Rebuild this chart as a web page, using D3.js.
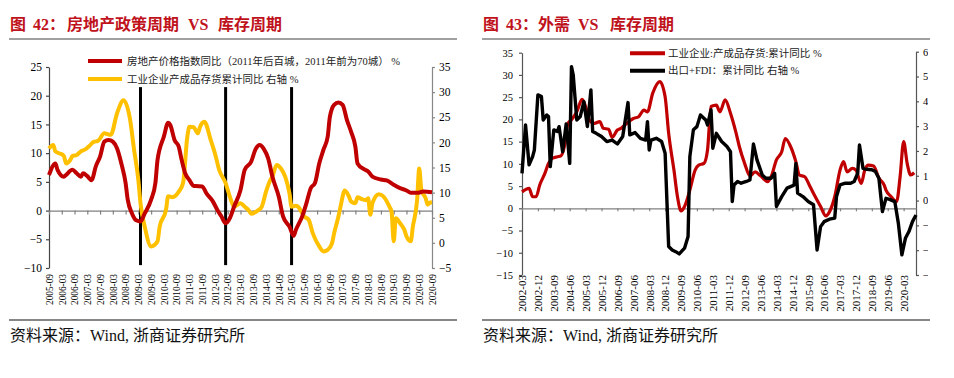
<!DOCTYPE html>
<html><head><meta charset="utf-8">
<script src="https://cdn.jsdelivr.net/npm/d3@7"></script>
<style>body{margin:0;background:#fff}svg{display:block}</style>
</head><body>
<svg id="c" width="954" height="378"></svg>
<script>
// ---------- DATA: chart 42 ----------
const houseSeries = [["2005-09",6.2],["2005-12",8.2],["2006-01",7.1],["2006-04",5.9],["2006-05",6.2],["2006-08",7.1],["2006-10",6.5],["2006-12",5.9],["2007-01",6.5],["2007-03",6.0],["2007-05",5.3],["2007-07",7.7],["2007-09",9.4],["2007-11",12.0],["2008-01",12.3],["2008-03",12.0],["2008-05",10.8],["2008-07",8.2],["2008-09",4.8],["2008-10",1.9],["2008-12",-0.5],["2009-02",-1.7],["2009-04",-1.9],["2009-06",-0.5],["2009-09",1.9],["2009-11",4.8],["2009-12",8.8],["2010-03",12.9],["2010-05",15.3],["2010-06",14.9],["2010-08",12.3],["2010-10",11.1],["2010-11",9.4],["2011-01",6.5],["2011-03",5.3],["2011-05",4.3],["2011-06",4.3],["2011-09",4.2],["2011-11",3.0],["2012-02",1.6],["2012-04",0.2],["2012-06",-1.0],["2012-08",-2.2],["2012-10",-1.3],["2012-12",0.7],["2013-03",3.6],["2013-05",7.1],["2013-08",8.5],["2013-10",10.6],["2013-12",11.4],["2014-02",10.7],["2014-04",9.1],["2014-06",5.9],["2014-09",2.4],["2014-11",-1.0],["2015-02",-2.8],["2015-04",-4.4],["2015-05",-3.4],["2015-08",-1.0],["2015-10",1.3],["2015-12",3.9],["2016-02",4.8],["2016-04",8.2],["2016-06",10.6],["2016-08",12.9],["2016-09",16.3],["2016-11",18.4],["2017-01",18.8],["2017-03",18.4],["2017-05",15.8],["2017-07",13.7],["2017-09",11.1],["2017-10",8.2],["2018-01",7.2],["2018-03",6.8],["2018-05",5.9],["2018-09",5.4],["2018-12",5.2],["2019-03",4.5],["2019-06",3.9],["2019-09",3.5],["2019-11",3.1],["2020-02",3.1],["2020-05",3.3],["2020-09",3.2]];
const inventorySeriesA = [["2005-09",18.8],["2005-11",19.5],["2005-12",18.2],["2006-02",17.8],["2006-04",17.3],["2006-05",15.8],["2006-07",16.5],["2006-08",17.3],["2006-10",17.5],["2006-12",18.2],["2007-02",18.6],["2007-04",19.3],["2007-06",20.1],["2007-08",20.3],["2007-11",21.8],["2008-02",21.5],["2008-05",25.8],["2008-08",28.4],["2008-11",24.8],["2009-01",18.5],["2009-03",12.5],["2009-04",7.9],["2009-06",3.2],["2009-09",-0.7],["2009-12",0.3],["2010-01",3.2],["2010-04",6.6],["2010-05",9.3],["2010-07",9.1],["2010-10",10.2],["2010-12",11.9],["2011-02",21.1],["2011-03",23.1],["2011-05",23.0],["2011-07",21.8],["2011-08",23.1],["2011-10",24.1],["2012-01",20.5],["2012-03",17.8],["2012-05",14.5],["2012-08",11.9],["2012-10",9.2],["2012-12",7.2],["2013-03",7.9],["2013-05",7.2],["2013-07",6.4],["2013-08",5.8],["2013-11",6.4],["2014-01",7.2],["2014-03",10.2],["2014-05",12.5],["2014-06",13.2],["2014-08",15.5],["2014-10",14.8],["2014-12",13.2],["2015-02",9.9],["2015-03",7.2],["2015-05",7.4],["2015-06",7.2],["2015-09",5.2],["2015-11",4.6],["2016-01",1.9],["2016-04",-0.7],["2016-06",-1.7],["2016-08",-1.4],["2016-10",-0.1],["2016-11",1.9],["2017-01",5.2],["2017-02",7.2],["2017-04",10.4],["2017-06",9.2],["2017-07",8.2],["2017-09",7.9],["2017-10",9.1],["2017-12",8.7],["2018-02",8.5],["2018-03",8.9],["2018-04",5.6],["2018-05",7.9],["2018-08",9.7],["2018-10",9.3],["2019-01",7.2],["2019-02",6.2],["2019-03",0.3],["2019-04",4.9],["2019-06",3.9],["2019-08",2.6],["2019-09",1.3],["2019-11",0.3],["2019-12",3.2],["2020-02",8.5],["2020-03",14.8],["2020-04",10.5],["2020-06",8.9],["2020-07",7.6],["2020-08",8.0],["2020-09",8.1]];
const policyMarkers = ["2009-04","2012-08","2015-03"];
const xLabelsA = ["2005-09","2006-03","2006-09","2007-03","2007-09","2008-03","2008-09","2009-03","2009-09","2010-03","2010-09","2011-03","2011-09","2012-03","2012-09","2013-03","2013-09","2014-03","2014-09","2015-03","2015-09","2016-03","2016-09","2017-03","2017-09","2018-03","2018-09","2019-03","2019-09","2020-03","2020-09"];
const leftTicksA = [-10,-5,0,5,10,15,20,25];
const rightTicksA = [-5,0,5,10,15,20,25,30,35];

// ---------- DATA: chart 43 ----------
const inventorySeriesB = [["2002-03",3.7],["2002-07",4.5],["2002-09",2.6],["2002-11",2.6],["2003-01",5.2],["2003-04",7.9],["2003-06",10.1],["2003-08",11.2],["2003-11",11.6],["2004-01",11.8],["2004-03",13.9],["2004-05",19.1],["2004-07",19.9],["2004-10",21.7],["2005-01",24.5],["2005-03",22.9],["2005-05",19.9],["2005-08",19.1],["2005-11",19.5],["2006-01",18.0],["2006-04",17.8],["2006-06",16.0],["2006-09",17.6],["2006-11",18.0],["2007-02",19.0],["2007-06",20.2],["2007-09",20.6],["2007-12",22.1],["2008-02",21.7],["2008-05",25.9],["2008-09",28.5],["2008-12",25.1],["2009-02",16.9],["2009-05",8.6],["2009-07",2.6],["2009-09",-0.6],["2009-11",0.4],["2010-02",4.1],["2010-05",8.6],["2010-07",9.7],["2010-10",10.1],["2010-12",13.1],["2011-02",22.9],["2011-05",23.2],["2011-07",21.7],["2011-10",24.4],["2012-01",21.4],["2012-04",17.2],["2012-06",13.9],["2012-09",10.1],["2012-12",7.3],["2013-03",8.2],["2013-06",7.3],["2013-10",6.0],["2013-12",7.1],["2014-03",10.9],["2014-06",12.7],["2014-08",15.7],["2014-11",13.9],["2015-02",10.5],["2015-04",7.5],["2015-07",7.1],["2015-10",4.9],["2016-01",2.6],["2016-04",0.4],["2016-07",-1.7],["2016-09",-0.8],["2016-12",2.6],["2017-03",8.6],["2017-05",10.5],["2017-07",8.2],["2017-10",9.0],["2017-12",8.6],["2018-03",5.6],["2018-05",8.6],["2018-07",9.7],["2018-10",9.5],["2019-01",6.8],["2019-04",5.2],["2019-05",4.1],["2019-08",2.6],["2019-11",1.5],["2020-01",7.1],["2020-03",15.0],["2020-05",10.1],["2020-07",7.5],["2020-09",8.0]];
const exportFdiSeries = [["2002-03",11.0],["2002-05",30.5],["2002-07",14.4],["2002-09",17.7],["2002-10",20.4],["2002-12",42.6],["2003-02",41.9],["2003-03",32.5],["2003-05",34.5],["2003-06",33.9],["2003-07",13.7],["2003-09",28.5],["2003-11",27.8],["2003-12",29.8],["2004-02",19.7],["2004-04",30.9],["2004-06",15.0],["2004-07",54.0],["2004-08",50.6],["2004-10",32.5],["2004-12",33.9],["2005-02",39.9],["2005-04",29.8],["2005-06",44.6],["2005-07",27.8],["2005-09",27.1],["2005-12",25.8],["2006-03",23.8],["2006-06",24.4],["2006-09",22.8],["2006-12",25.8],["2007-03",39.5],["2007-04",26.5],["2007-07",27.4],["2007-10",25.1],["2008-01",24.4],["2008-02",31.8],["2008-03",20.4],["2008-04",24.4],["2008-07",25.1],["2008-10",23.8],["2008-12",19.1],["2009-02",-18.5],["2009-04",-19.9],["2009-06",-20.6],["2009-08",-21.5],["2009-11",-19.2],["2010-01",-14.5],["2010-02",17.7],["2010-04",28.5],["2010-06",29.8],["2010-08",34.5],["2010-11",32.5],["2010-12",30.5],["2011-02",36.5],["2011-03",21.1],["2011-05",27.1],["2011-08",23.8],["2011-11",21.8],["2012-01",19.7],["2012-02",-0.4],["2012-03",6.3],["2012-05",7.7],["2012-07",7.0],["2012-10",7.7],["2012-12",8.3],["2013-02",22.8],["2013-04",16.4],["2013-07",10.3],["2013-09",9.0],["2013-12",9.0],["2014-02",11.0],["2014-03",-2.4],["2014-06",1.6],["2014-09",5.0],["2014-12",5.9],["2015-01",6.3],["2015-02",15.0],["2015-03",3.0],["2015-06",1.6],["2015-09",-0.4],["2015-12",-1.7],["2016-02",-19.9],["2016-04",-10.5],["2016-06",-8.5],["2016-09",-7.5],["2016-12",-7.1],["2017-01",1.6],["2017-03",6.3],["2017-06",7.0],["2017-09",7.0],["2017-11",7.7],["2018-01",11.0],["2018-02",22.4],["2018-04",13.0],["2018-06",12.6],["2018-09",12.4],["2018-11",11.7],["2019-01",9.0],["2019-03",-4.4],["2019-05",0.9],["2019-07",0.5],["2019-10",-0.4],["2019-12",-9.1],["2020-02",-21.9],["2020-04",-15.2],["2020-06",-12.5],["2020-08",-8.5],["2020-10",-5.8]];
const xLabelsB = ["2002-03","2002-12","2003-09","2004-06","2005-03","2005-12","2006-09","2007-06","2008-03","2008-12","2009-09","2010-06","2011-03","2011-12","2012-09","2013-06","2014-03","2014-12","2015-09","2016-06","2017-03","2017-12","2018-09","2019-06","2020-03"];
const leftTicksB = [-15,-10,-5,0,5,10,15,20,25,30,35];
const rightTicksB = [-30,-20,-10,0,10,20,30,40,50,60];

// ---------- helpers ----------
const monthIdx = (s, base) => { const [y,m] = s.split("-").map(Number); const [by,bm] = base.split("-").map(Number); return (y-by)*12 + (m-bm); };
const SERIF = "'Liberation Serif','Times New Roman','Noto Sans CJK SC',serif";
const CJK = "'Liberation Serif','Noto Sans CJK SC',sans-serif";
const RED = "#C00000", YEL = "#FFC000", TITLE = "#C0121C";

const svg = d3.select("#c");

function frame(x0, x1, titleParts){
  const t = svg.append("text").attr("y",30).attr("font-size",16).attr("font-weight","bold")
    .attr("fill",TITLE).attr("font-family",CJK);
  titleParts.forEach(p => t.append("tspan").attr("x",p[0]).text(p[1]));
  svg.append("line").attr("x1",x0).attr("x2",x1).attr("y1",39).attr("y2",39).attr("stroke","#808080").attr("stroke-width",1.6);
  svg.append("line").attr("x1",x0).attr("x2",x1).attr("y1",320).attr("y2",320).attr("stroke","#111").attr("stroke-width",1.2);
  svg.append("text").attr("x",x0+1).attr("y",341).attr("font-size",16).attr("fill","#111")
    .attr("font-family",CJK).text("资料来源：Wind, 浙商证券研究所");
}

function styleAxis(g, color){
  g.selectAll("path.domain").attr("stroke",color).attr("stroke-width",1.2);
  g.selectAll(".tick line").attr("stroke",color).attr("stroke-width",1.2);
  g.selectAll("text").attr("fill","#000");
}

// ================= Chart 42 =================
frame(9, 457, [[10,"图"],[33,"42："],[67,"房地产政策周期"],[188,"VS"],[218,"库存周期"]]);
{
  const base = "2005-09";
  const x = d3.scaleLinear().domain([0,180]).range([49,432]);
  const yL = d3.scaleLinear().domain([-10,25]).range([268,67]);
  const yR = d3.scaleLinear().domain([-5,35]).range([268,67]);
  const g = svg.append("g");

  const ax1 = g.append("g").attr("transform","translate(49,0)")
    .call(d3.axisLeft(yL).tickValues(leftTicksA).tickSize(3).tickSizeOuter(0).tickPadding(4))
    .attr("font-family",SERIF).attr("font-size",11.5);
  styleAxis(ax1,"#444");
  const ax2 = g.append("g").attr("transform","translate(432,0)")
    .call(d3.axisRight(yR).tickValues(rightTicksA).tickSize(3).tickSizeOuter(0).tickPadding(4))
    .attr("font-family",SERIF).attr("font-size",11.5);
  styleAxis(ax2,"#888");

  const tickIdx = xLabelsA.map(s => monthIdx(s,base));
  const zx = g.append("g").attr("transform",`translate(0,${yL(0)})`)
    .call(d3.axisBottom(x).tickValues(tickIdx).tickSize(4).tickSizeOuter(0).tickFormat(""));
  styleAxis(zx,"#808080");
  const lab = g.append("g").attr("transform","translate(0,272)")
    .call(d3.axisBottom(x).tickValues(tickIdx).tickSize(0).tickFormat((d,i)=>xLabelsA[i]))
    .attr("font-family",SERIF).attr("font-size",9.3);
  lab.select("path.domain").remove();
  lab.selectAll("text").attr("transform","rotate(-90)").attr("text-anchor","end")
    .attr("x",-2).attr("y",0).attr("dy","0.35em").attr("fill","#000");

  // policy markers
  g.selectAll("line.mk").data(policyMarkers).join("line").attr("class","mk")
    .attr("x1",d=>x(monthIdx(d,base))).attr("x2",d=>x(monthIdx(d,base)))
    .attr("y1",yL(21.5)).attr("y2",yL(-9.5)).attr("stroke","#000").attr("stroke-width",3);

  const lineL = d3.line().x(d=>x(monthIdx(d[0],base))).y(d=>yL(d[1])).curve(d3.curveMonotoneX);
  const lineR = d3.line().x(d=>x(monthIdx(d[0],base))).y(d=>yR(d[1])).curve(d3.curveMonotoneX);
  g.append("path").attr("d",lineR(inventorySeriesA)).attr("fill","none").attr("stroke",YEL).attr("stroke-width",4).attr("stroke-linejoin","round");
  g.append("path").attr("d",lineL(houseSeries)).attr("fill","none").attr("stroke",RED).attr("stroke-width",4).attr("stroke-linejoin","round");

  // legend
  const leg = [["房地产价格指数同比（2011年后百城，2011年前为70城） %",RED,61],["工业企业产成品存货累计同比 右轴 %",YEL,79]];
  leg.forEach(l=>{
    g.append("line").attr("x1",88).attr("x2",122).attr("y1",l[2]).attr("y2",l[2]).attr("stroke",l[1]).attr("stroke-width",4);
    g.append("text").attr("x",127).attr("y",l[2]).attr("dy","0.36em").attr("font-size",10.5)
      .attr("font-family",CJK).attr("fill","#222").text(l[0]);
  });
}

// ================= Chart 43 =================
frame(482, 930, [[483,"图"],[506,"43："],[538,"外需"],[578,"VS"],[610,"库存周期"]]);
{
  const base = "2002-03";
  svg.append("defs").append("clipPath").attr("id","clipB").append("rect")
    .attr("x",478).attr("y",40).attr("width",450).attr("height",278);
  const x = d3.scaleLinear().domain([0,223]).range([522,916]);
  const yL = d3.scaleLinear().domain([-15,35]).range([275,52.7]);
  const yR = d3.scaleLinear().domain([-30,60]).range([275,51.7]);
  const g = svg.append("g").attr("clip-path","url(#clipB)");

  const ax1 = g.append("g").attr("transform","translate(522,0)")
    .call(d3.axisLeft(yL).tickValues(leftTicksB).tickSize(3).tickSizeOuter(0).tickPadding(6))
    .attr("font-family",SERIF).attr("font-size",10.5);
  styleAxis(ax1,"#555");
  const ax2 = g.append("g").attr("transform","translate(916,0)")
    .call(d3.axisRight(yR).tickValues(rightTicksB).tickSize(3).tickSizeOuter(0).tickPadding(4))
    .attr("font-family",SERIF).attr("font-size",10.5);
  styleAxis(ax2,"#555");

  const tickIdx = xLabelsB.map(s => monthIdx(s,base));
  const zx = g.append("g").attr("transform",`translate(0,${yL(0)})`)
    .call(d3.axisBottom(x).tickValues(tickIdx).tickSize(3).tickSizeOuter(0).tickFormat(""));
  styleAxis(zx,"#808080");
  const lab = g.append("g").attr("transform","translate(0,273)")
    .call(d3.axisBottom(x).tickValues(tickIdx).tickSize(0).tickFormat((d,i)=>xLabelsB[i]))
    .attr("font-family",SERIF).attr("font-size",11);
  lab.select("path.domain").remove();
  lab.selectAll("text").attr("transform","rotate(-90)").attr("text-anchor","end")
    .attr("x",-2).attr("y",0).attr("dy","0.35em").attr("fill","#000");

  const lineL = d3.line().x(d=>x(monthIdx(d[0],base))).y(d=>yL(d[1])).curve(d3.curveMonotoneX);
  const lineR = d3.line().x(d=>x(monthIdx(d[0],base))).y(d=>yR(d[1]));
  g.append("path").attr("d",lineL(inventorySeriesB)).attr("fill","none").attr("stroke",RED).attr("stroke-width",3.2).attr("stroke-linejoin","round");
  g.append("path").attr("d",lineR(exportFdiSeries)).attr("fill","none").attr("stroke","#000").attr("stroke-width",3.4).attr("stroke-linejoin","round");

  const leg = [["工业企业:产成品存货:累计同比 %",RED,53.3],["出口+FDI：累计同比 右轴 %","#000",70.7]];
  leg.forEach(l=>{
    g.append("line").attr("x1",630).attr("x2",665).attr("y1",l[2]).attr("y2",l[2]).attr("stroke",l[1]).attr("stroke-width",4);
    g.append("text").attr("x",668).attr("y",l[2]).attr("dy","0.36em").attr("font-size",10.5)
      .attr("font-family",CJK).attr("fill","#222").text(l[0]);
  });
}
</script>
</body></html>
